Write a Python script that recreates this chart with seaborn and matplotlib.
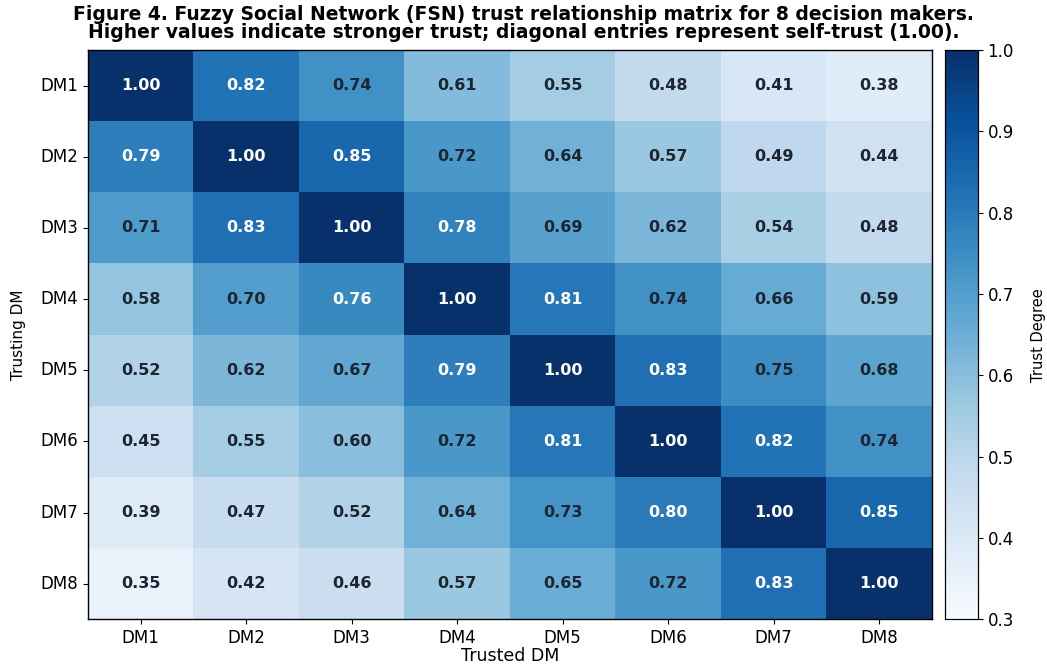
import numpy as np
import pandas as pd
import matplotlib
matplotlib.use("Agg")
import matplotlib.pyplot as plt
import seaborn as sns

labels = ["DM1", "DM2", "DM3", "DM4", "DM5", "DM6", "DM7", "DM8"]

row_dm1 = [1.00, 0.82, 0.74, 0.61, 0.55, 0.48, 0.41, 0.38]
row_dm2 = [0.79, 1.00, 0.85, 0.72, 0.64, 0.57, 0.49, 0.44]
row_dm3 = [0.71, 0.83, 1.00, 0.78, 0.69, 0.62, 0.54, 0.48]
row_dm4 = [0.58, 0.70, 0.76, 1.00, 0.81, 0.74, 0.66, 0.59]
row_dm5 = [0.52, 0.62, 0.67, 0.79, 1.00, 0.83, 0.75, 0.68]
row_dm6 = [0.45, 0.55, 0.60, 0.72, 0.81, 1.00, 0.82, 0.74]
row_dm7 = [0.39, 0.47, 0.52, 0.64, 0.73, 0.80, 1.00, 0.85]
row_dm8 = [0.35, 0.42, 0.46, 0.57, 0.65, 0.72, 0.83, 1.00]

trust = pd.DataFrame(
    [row_dm1, row_dm2, row_dm3, row_dm4, row_dm5, row_dm6, row_dm7, row_dm8],
    index=labels, columns=labels,
)

fig = plt.figure(figsize=(10.47, 6.66), dpi=100)
ax = fig.add_axes([0.084, 0.07, 0.806, 0.855])
cax = fig.add_axes([0.903, 0.07, 0.031, 0.855])

sns.heatmap(
    trust, ax=ax, cbar_ax=cax, cmap="Blues", vmin=0.3, vmax=1.0,
    annot=True, fmt=".2f", annot_kws={"fontsize": 11.5, "fontweight": "bold"},
    cbar_kws={"label": "Trust Degree"},
)

# light labels on the darker cells, dark labels elsewhere
vals = trust.to_numpy().ravel()
for txt, v in zip(ax.texts, vals):
    txt.set_color("white" if v >= 0.755 else "#1c2530")

for side in ax.spines.values():
    side.set_visible(True)
    side.set_linewidth(1.0)
    side.set_color("black")
for side in cax.spines.values():
    side.set_visible(True)
    side.set_linewidth(0.8)

ax.set_xlabel("Trusted DM", fontsize=12.5, labelpad=0)
ax.set_ylabel("Trusting DM", fontsize=11, labelpad=10)
ax.tick_params(axis="both", labelsize=12)
ax.tick_params(axis="y", rotation=0)
ax.tick_params(axis="x", rotation=0)
cax.tick_params(labelsize=12)
cax.set_ylabel("Trust Degree", fontsize=10.5, labelpad=12)

fig.suptitle(
    "Figure 4. Fuzzy Social Network (FSN) trust relationship matrix for 8 decision makers.\n"
    "Higher values indicate stronger trust; diagonal entries represent self-trust (1.00).",
    fontsize=13.5, fontweight="bold", y=0.992, linespacing=0.92,
)

fig.savefig("out.png", dpi=100)
